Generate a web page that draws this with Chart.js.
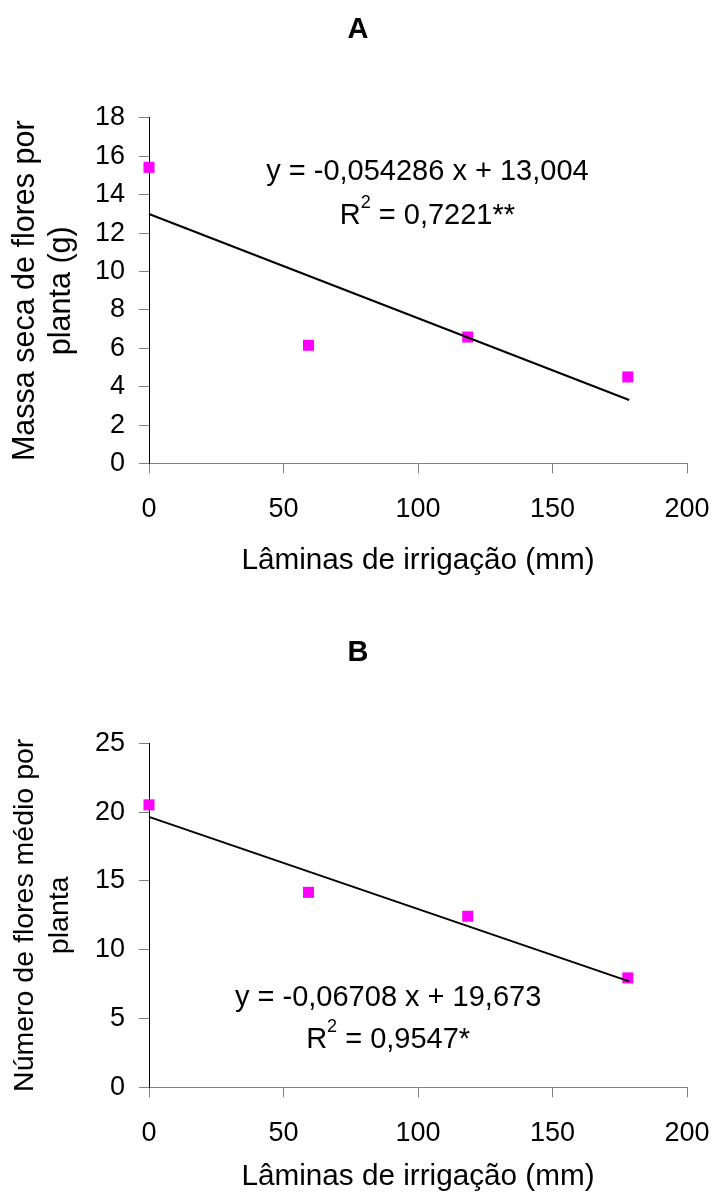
<!DOCTYPE html>
<html>
<head>
<meta charset="utf-8">
<script src="https://cdn.jsdelivr.net/npm/chart.js@4.4.1/dist/chart.umd.min.js"></script>
<style>
  html, body { margin: 0; padding: 0; background: #fff; }
  #wrap { position: relative; width: 716px; height: 1198px; }
  canvas { position: absolute; left: 0; }
  #chartA { top: 0; }
  #chartB { top: 600px; }
</style>
</head>
<body>
<div id="wrap">
  <canvas id="chartA" width="716" height="600"></canvas>
  <canvas id="chartB" width="716" height="598"></canvas>
</div>
<script>
// Data
const laminas = [0, 59.3, 118.5, 178];
const massaSeca = [15.43, 6.16, 6.59, 4.51];
const numeroFlores = [20.53, 14.17, 12.43, 7.95];

// regression line end points
const trendX = [0, 178.5];
const trendA = [13.0, 3.31];
const trendB = [19.65, 7.70];

const xTicks = [0, 50, 100, 150, 200];
const yTicksA = [0, 2, 4, 6, 8, 10, 12, 14, 16, 18];
const yTicksB = [0, 5, 10, 15, 20, 25];

const xTitle = 'Lâminas de irrigação (mm)';
const yTitleA = ['Massa seca de flores por', 'planta (g)'];
const yTitleB = ['Número de flores médio por', 'planta'];

const eqA = 'y = -0,054286 x + 13,004';
const r2A = ' = 0,7221**';
const eqB = 'y = -0,06708 x + 19,673';
const r2B = ' = 0,9547*';

const FONT = "'Liberation Sans', Arial, sans-serif";

function pairs(xs, ys) {
    return xs.map((x, i) => ({ x: x, y: ys[i] }));
}

// draws the equation and R² text, anchored at data coordinates
const eqPlugin = {
    id: 'eqText',
    afterDatasetsDraw(chart, args, opts) {
        const ctx = chart.ctx;
        const xs = chart.scales.x;
        const ys = chart.scales.y;
        const cx = xs.getPixelForValue(opts.x);
        const big = '29px ' + FONT;
        const small = '18px ' + FONT;
        ctx.save();
        ctx.fillStyle = '#000';
        ctx.textBaseline = 'middle';
        ctx.textAlign = 'left';

        // line 1
        ctx.font = big;
        const w = ctx.measureText(opts.eq).width;
        ctx.fillText(opts.eq, cx - w / 2, ys.getPixelForValue(opts.y[0]));

        // line 2: R with superscript 2
        const cy = ys.getPixelForValue(opts.y[1]);
        const wR = ctx.measureText('R').width;
        const wRest = ctx.measureText(opts.r2).width;
        ctx.font = small;
        const wSup = ctx.measureText('2').width;
        const left = cx - (wR + wSup + wRest) / 2;
        ctx.font = big;
        ctx.fillText('R', left, cy);
        ctx.fillText(opts.r2, left + wR + wSup, cy);
        ctx.font = small;
        ctx.fillText('2', left + wR, cy - 13);
        ctx.restore();
    }
};

function makeChart(id, cfg) {
    return new Chart(document.getElementById(id), {
        type: 'scatter',
        data: {
            datasets: [{
                type: 'line',
                data: pairs(trendX, cfg.trend),
                borderColor: '#000',
                borderWidth: 2,
                pointRadius: 0,
                fill: false,
                clip: false
            }, {
                data: pairs(laminas, cfg.values),
                pointStyle: 'rect',
                pointRadius: 7.8,
                pointHoverRadius: 7.8,
                backgroundColor: '#ff00ff',
                borderColor: '#ff00ff',
                borderWidth: 0,
                clip: false
            }]
        },
        options: {
            responsive: false,
            animation: false,
            events: [],
            layout: { padding: 0 },
            scales: {
                x: {
                    type: 'linear',
                    min: 0,
                    max: 200,
                    afterBuildTicks: s => { s.ticks = xTicks.map(v => ({ value: v })); },
                    afterFit: s => {
                        s.height = cfg.xHeight;
                        s.paddingLeft = 0;
                        s.paddingRight = 29;
                    },
                    grid: { drawOnChartArea: false, tickLength: 10, color: '#808080' },
                    border: { color: '#808080', width: 1 },
                    ticks: { color: '#000', padding: 20, maxRotation: 0, font: { family: FONT, size: 27 } },
                    title: {
                        display: true,
                        text: xTitle,
                        color: '#000',
                        font: { family: FONT, size: 29.7, lineHeight: 1.2 },
                        padding: { top: 0, bottom: cfg.xTitlePad }
                    }
                },
                y: {
                    min: 0,
                    max: cfg.yMax,
                    afterBuildTicks: s => { s.ticks = cfg.yTicks.map(v => ({ value: v })); },
                    afterFit: s => {
                        s.width = 149;
                        s.paddingTop = 0;
                        s.paddingBottom = 0;
                    },
                    grid: { drawOnChartArea: false, tickLength: 10, color: '#808080' },
                    border: { color: '#000', width: 1 },
                    ticks: { color: '#000', padding: 14, font: { family: FONT, size: 27 } },
                    title: {
                        display: true,
                        text: cfg.yTitle,
                        color: '#000',
                        font: { family: FONT, size: cfg.yTitleSize, lineHeight: cfg.yTitleLH },
                        padding: { top: cfg.yTitlePad, bottom: 0 }
                    }
                }
            },
            plugins: {
                legend: { display: false },
                tooltip: { enabled: false },
                title: {
                    display: true,
                    text: cfg.title,
                    color: '#000',
                    font: { family: FONT, size: 29, weight: 'bold', lineHeight: 1.2 },
                    padding: cfg.titlePad
                },
                eqText: cfg.eq
            }
        },
        plugins: [eqPlugin]
    });
}

makeChart('chartA', {
    title: 'A',
    titlePad: { top: 12.6, bottom: 70.6 },
    values: massaSeca,
    trend: trendA,
    yMax: 18,
    yTicks: yTicksA,
    yTitle: yTitleA,
    yTitleSize: 30.5,
    yTitleLH: 1.2,
    yTitlePad: 7,
    xHeight: 136.5,
    xTitlePad: 21.2,
    eq: { x: 103.5, y: [15.2, 12.9], eq: eqA, r2: r2A }
});

makeChart('chartB', {
    title: 'B',
    titlePad: { top: 35.6, bottom: 72.9 },
    values: numeroFlores,
    trend: trendB,
    yMax: 25,
    yTicks: yTicksB,
    yTitle: yTitleB,
    yTitleSize: 28.5,
    yTitleLH: 1.25,
    yTitlePad: 7.2,
    xHeight: 110.7,
    xTitlePad: 3.2,
    eq: { x: 88.9, y: [6.49, 3.44], eq: eqB, r2: r2B }
});
</script>
</body>
</html>
